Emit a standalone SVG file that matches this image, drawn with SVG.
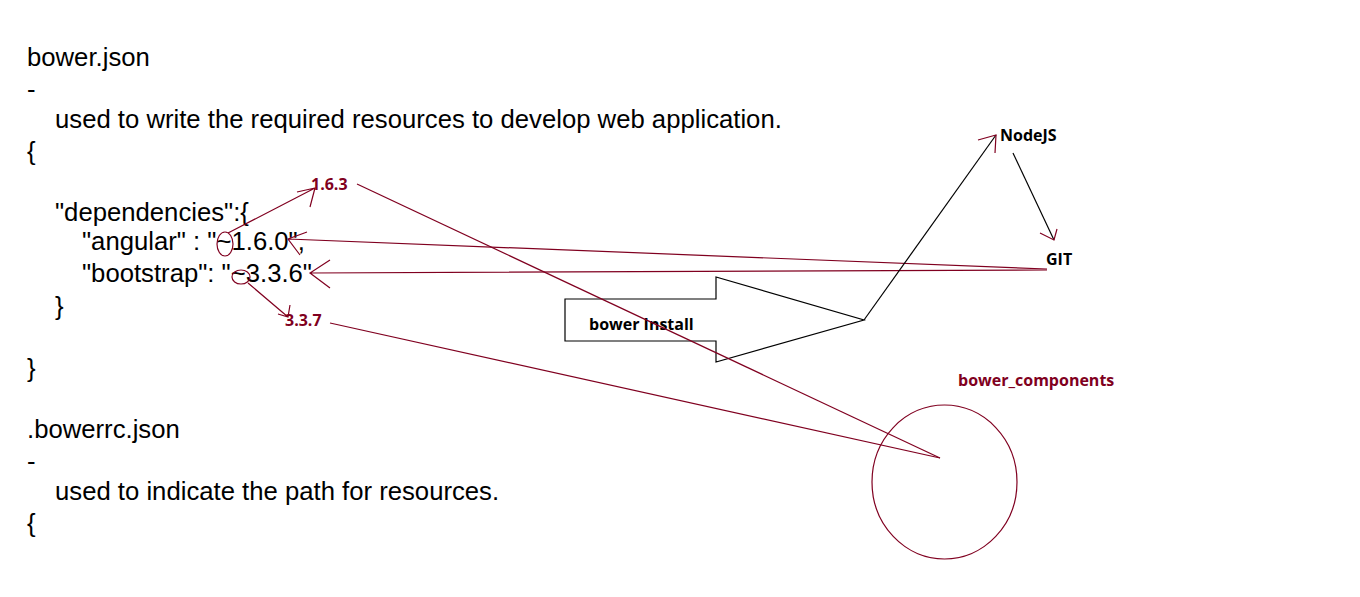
<svg xmlns="http://www.w3.org/2000/svg" width="1360" height="597" viewBox="0 0 1360 597">
<style>
.t{font-family:"Liberation Sans",Arial,sans-serif;font-size:25.7px;fill:#000}
.l{font-family:"Open Sans","Liberation Sans",sans-serif;font-size:16px;font-weight:bold}
.r{fill:#800020}
.k{fill:#000}
.rl{stroke:#800020;stroke-width:1.2;fill:none}
.bl{stroke:#000;stroke-width:1.2;fill:none}
</style>
<rect width="1360" height="597" fill="#fff"/>
<g id="text">
<text class="t" x="27" y="66">bower.json</text>
<text class="t" x="27" y="98">-</text>
<text class="t" x="55" y="128">used to write the required resources to develop web application.</text>
<text class="t" x="27" y="160">{</text>
<text class="t" x="55" y="221">"dependencies":{</text>
<text class="t" x="82" y="250">"angular" : "~1.6.0",</text>
<text class="t" x="82" y="282">"bootstrap": "~3.3.6"</text>
<text class="t" x="55" y="315">}</text>
<text class="t" x="27" y="377">}</text>
<text class="t" x="27" y="438">.bowerrc.json</text>
<text class="t" x="27" y="470">-</text>
<text class="t" x="55" y="500">used to indicate the path for resources.</text>
<text class="t" x="27" y="532">{</text>
</g>
<g id="v163"><text class="l r" x="311" y="190">1.6.3</text></g>
<g id="v337"><text class="l r" x="285" y="326">3.3.7</text></g>
<g id="nodejs"><text class="l k" x="1000" y="141">NodeJS</text></g>
<g id="git"><text class="l k" x="1046" y="265">GIT</text></g>
<g id="bower-install">
<polygon class="bl" points="565,299 716,299 716,277 864,320 716,362 716,341 565,341"/>
<text class="l k" x="589" y="330">bower Install</text>
</g>
<g id="bower-components">
<text class="l r" x="958" y="386">bower_components</text>
<ellipse class="rl" cx="944.5" cy="482" rx="72.5" ry="77"/>
</g>
<g id="connectors">
<ellipse class="rl" cx="225" cy="244" rx="8" ry="12"/>
<ellipse class="rl" cx="241" cy="277" rx="9" ry="7"/>
<path class="rl" d="M228,233 L315,188 M297,192 L315,188 L310,207"/>
<path class="rl" d="M248,283 L288,317 M290,305 L288,317 L278,314"/>
<path class="rl" d="M1047,269 L288,239 M307,232 L288,239 L300,255"/>
<path class="rl" d="M1047,270 L310,273 M330,260 L310,273 L330,288"/>
<path class="rl" d="M357,184 L940,458"/>
<path class="rl" d="M330,323 L940,458"/>
<path class="bl" d="M864,320 L996,135"/>
<path class="rl" d="M978,140 L996,135 L995,153"/>
<path class="bl" d="M1013,153 L1054,240"/>
<path class="rl" d="M1040,233 L1054,240 L1057,229"/>
</g>
</svg>
